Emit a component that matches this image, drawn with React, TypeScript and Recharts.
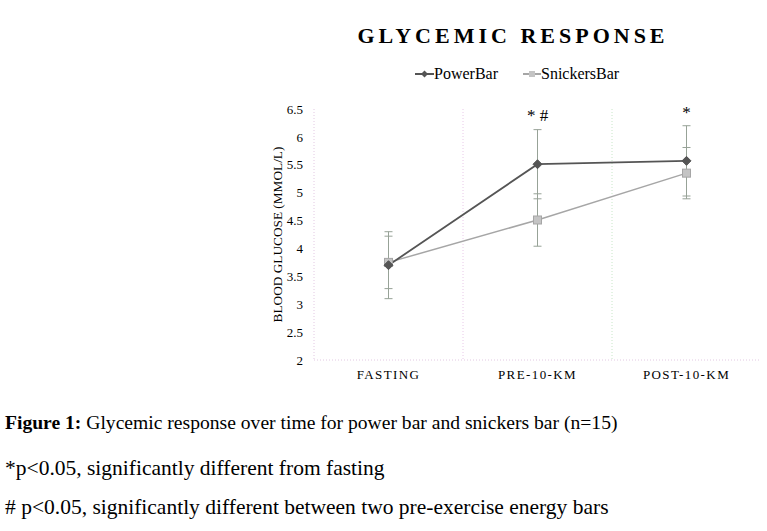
import React from 'react';
import { LineChart, Line, XAxis, YAxis, ErrorBar, ReferenceArea, LabelList } from 'recharts';

const timepoints = ['FASTING', 'PRE-10-KM', 'POST-10-KM'];
const powerBar = [3.7, 5.51, 5.57];
const powerBarErr = [0.6, 0.62, 0.63];
const snickersBar = [3.75, 4.51, 5.35];
const snickersBarErr = [0.47, 0.47, 0.46];
const marks = ['', '* #', '*'];
const yTicks = [2, 2.5, 3, 3.5, 4, 4.5, 5, 5.5, 6, 6.5];

const data = timepoints.map((t, i) => ({
  time: t,
  power: powerBar[i],
  powerErr: powerBarErr[i],
  snickers: snickersBar[i],
  snickersErr: snickersBarErr[i],
  mark: marks[i],
}));

const SERIF = '"Liberation Serif", "Times New Roman", serif';
const DARK = '#555555';
const LIGHT = '#a6a6a6';
const ERR = '#97a297';
const GRID = '#e2c8e2';
const SEP_COLORS = ['#e8c8e8', '#c8e6c8'];

const Diamond = (props: any) => {
  const { cx, cy } = props;
  if (cx == null || cy == null) return null;
  return <path d={`M${cx},${cy - 4.5}L${cx + 4.5},${cy}L${cx},${cy + 4.5}L${cx - 4.5},${cy}Z`} fill={DARK} stroke={DARK} />;
};

const Square = (props: any) => {
  const { cx, cy } = props;
  if (cx == null || cy == null) return null;
  return <rect x={cx - 4} y={cy - 4} width={8} height={8} fill="#c4c4c4" stroke={LIGHT} strokeWidth={1} />;
};

// only the left edge of the band is drawn, as a dotted divider
const BandEdge = (props: any) => {
  const { x, y, height, stroke } = props;
  if (x == null) return null;
  return <line x1={x} y1={y} x2={x} y2={y + height} stroke={stroke} strokeDasharray="1 2" />;
};

const MarkLabel = (props: any) => {
  const { x, y, value } = props;
  if (!value) return null;
  return (
    <text x={x} y={y - 43} textAnchor="middle" fontFamily={SERIF} fontSize={17} fill="#000">
      {value}
    </text>
  );
};

export default function App() {
  return (
    <div style={{ position: 'relative', width: 767, height: 531, background: '#fff', fontFamily: SERIF }}>
      <style>{'body{margin:0}'}</style>
      <div
        style={{
          position: 'absolute',
          left: 513,
          top: 22,
          transform: 'translateX(-50%)',
          fontSize: 22,
          fontWeight: 'bold',
          letterSpacing: 4,
          whiteSpace: 'nowrap',
          lineHeight: '28px',
        }}
      >
        GLYCEMIC RESPONSE
      </div>
      <div style={{ position: 'absolute', left: 415, top: 64, display: 'flex', gap: 25, fontSize: 16, lineHeight: '20px' }}>
        <span style={{ display: 'flex', alignItems: 'center' }}>
          <svg width={19} height={10}>
            <line x1={0} y1={5} x2={19} y2={5} stroke={DARK} strokeWidth={2} />
            <path d="M9.5,1.5L13,5L9.5,8.5L6,5Z" fill={DARK} />
          </svg>
          PowerBar
        </span>
        <span style={{ display: 'flex', alignItems: 'center' }}>
          <svg width={18} height={10}>
            <line x1={0} y1={5} x2={18} y2={5} stroke={LIGHT} strokeWidth={2} />
            <rect x={6} y={2} width={6} height={6} fill="#c4c4c4" />
          </svg>
          SnickersBar
        </span>
      </div>
      <div style={{ position: 'absolute', left: 0, top: 0 }}>
        <LineChart width={767} height={400} data={data} margin={{ top: 109, right: 6, bottom: 10, left: 240 }}>
          <XAxis
            dataKey="time"
            scale="band"
            axisLine={{ stroke: GRID, strokeDasharray: '1 2' }}
            tickLine={false}
            tickMargin={4}
            tick={{ fill: '#000', fontSize: 13, fontFamily: SERIF, letterSpacing: 1.4 }}
          />
          <YAxis
            domain={[2, 6.5]}
            ticks={yTicks}
            width={74}
            axisLine={{ stroke: GRID, strokeDasharray: '1 2' }}
            tickLine={false}
            tickMargin={5}
            tick={{ fill: '#000', fontSize: 13, fontFamily: SERIF }}
            label={{ value: 'BLOOD GLUCOSE (MMOL/L)', angle: -90, position: 'center', fill: '#000', fontSize: 13.3, fontFamily: SERIF }}
          />
          {timepoints.slice(1).map((t, i) => (
            <ReferenceArea
              key={t}
              x1={t}
              x2={t}
              fill="none"
              stroke={SEP_COLORS[i]}
              shape={<BandEdge />}
            />
          ))}
          <Line
            dataKey="snickers"
            stroke={LIGHT}
            strokeWidth={1.5}
            dot={<Square />}
            isAnimationActive={false}
          >
            <ErrorBar dataKey="snickersErr" width={4} stroke={ERR} strokeWidth={1} direction="y" />
          </Line>
          <Line
            dataKey="power"
            stroke={DARK}
            strokeWidth={1.8}
            dot={<Diamond />}
            isAnimationActive={false}
          >
            <ErrorBar dataKey="powerErr" width={4} stroke={ERR} strokeWidth={1} direction="y" />
            <LabelList dataKey="mark" content={<MarkLabel />} />
          </Line>
        </LineChart>
      </div>
      <div style={{ position: 'absolute', left: 5, top: 411, fontSize: 19.6, whiteSpace: 'nowrap', lineHeight: '24px' }}>
        <b>Figure 1:</b> Glycemic response over time for power bar and snickers bar (n=15)
      </div>
      <div style={{ position: 'absolute', left: 5, top: 455, fontSize: 21.5, whiteSpace: 'nowrap', lineHeight: '26px' }}>
        *p&lt;0.05, significantly different from fasting
      </div>
      <div style={{ position: 'absolute', left: 5, top: 494, fontSize: 21.5, whiteSpace: 'nowrap', lineHeight: '26px' }}>
        # p&lt;0.05, significantly different between two pre-exercise energy bars
      </div>
    </div>
  );
}
